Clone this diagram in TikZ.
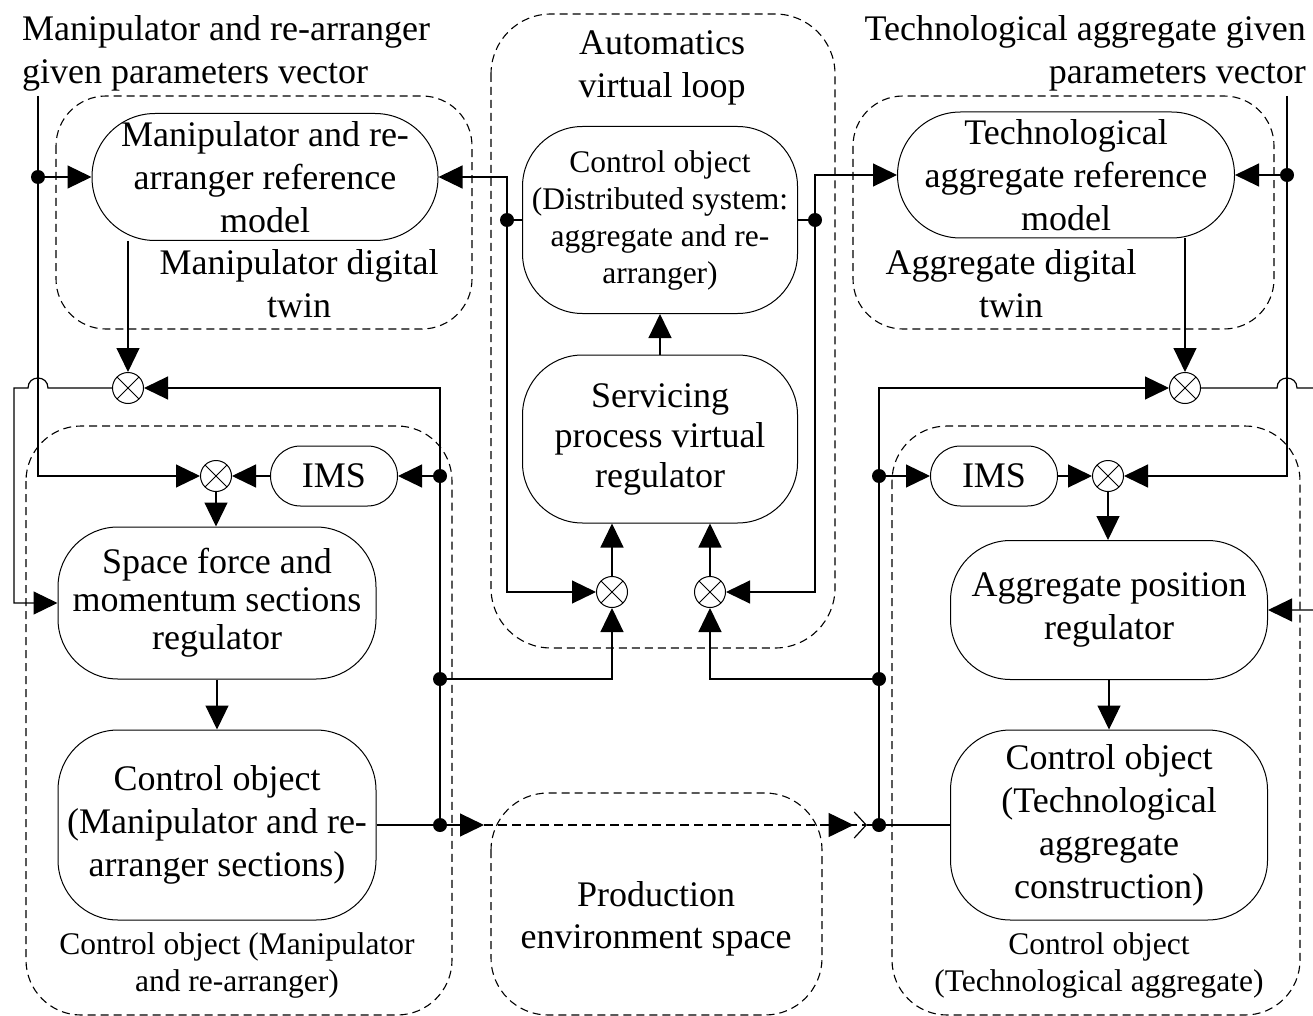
\documentclass[tikz,border=0pt]{standalone}
\usepackage{fontspec}
\setmainfont{Liberation Serif}
\usetikzlibrary{arrows.meta,backgrounds}
\newcommand\bigtxt{\fontsize{36}{43}\selectfont}
\newcommand\midtxt{\fontsize{36}{40}\selectfont}
\newcommand\smalltxt{\fontsize{31.5}{37}\selectfont}
\tikzset{
  blk/.style={draw, fill=white, line width=1pt, align=center, inner sep=0pt, font=\bigtxt},
  sumj/.style={draw, circle, fill=white, line width=1pt, minimum size=31pt, inner sep=0pt,
    path picture={\draw[line width=0.8pt] (path picture bounding box.north west) -- (path picture bounding box.south east)
      (path picture bounding box.north east) -- (path picture bounding box.south west);}},
  junc/.style={circle, fill, inner sep=0pt, minimum size=14pt},
  grp/.style={draw, line width=1.1pt, dash pattern=on 8pt off 5pt, rounded corners=#1},
  grp/.default=55pt,
  lbl/.style={align=center, inner sep=0pt, font=\bigtxt},
  conn/.style={line width=1.2pt},
  arr/.style={conn, -{Triangle[length=24pt,width=23pt]}},
}
\begin{document}
\begin{tikzpicture}[x=1pt, y=-1pt]
    \useasboundingbox (0,0) rectangle (1313,1016);

    \node[lbl, anchor=west, align=left] (tl) at (22,53) {Manipulator and re-arranger\\given parameters vector};
    \node[lbl] (tm) at (662,68) {Automatics\\virtual loop};
    \node[lbl, anchor=east, align=right] (tr) at (1306,53) {Technological aggregate given\\parameters vector};

    \node[blk, rounded corners=63pt, minimum width=346pt, minimum height=127pt] (mref) at (265,177) {Manipulator and re-\\arranger reference\\model};
    \node[blk, rounded corners=63pt, minimum width=337pt, minimum height=126pt] (tref) at (1066,175) {Technological\\aggregate reference\\model};
    \node[blk, rounded corners=60pt, minimum width=275pt, minimum height=187pt, font=\smalltxt] (cod) at (660,220) {Control object\\(Distributed system:\\aggregate and re-\\arranger)};
    \node[blk, rounded corners=60pt, minimum width=275pt, minimum height=168pt, font=\midtxt] (svr) at (660,439) {Servicing\\process virtual\\regulator};
    \node[blk, rounded corners=30pt, minimum width=127pt, minimum height=60pt] (imsl) at (334,476) {IMS};
    \node[blk, rounded corners=30pt, minimum width=127pt, minimum height=60pt] (imsr) at (994,476) {IMS};
    \node[blk, rounded corners=60pt, minimum width=318pt, minimum height=152pt, font=\fontsize{36}{38}\selectfont] (sfr) at (217,603) {Space force and\\momentum sections\\regulator};
    \node[blk, rounded corners=60pt, minimum width=318pt, minimum height=190pt] (col) at (217,825) {Control object\\(Manipulator and re-\\arranger sections)};
    \node[blk, rounded corners=60pt, minimum width=317pt, minimum height=139pt] (agr) at (1109,610) {Aggregate position\\regulator};
    \node[blk, rounded corners=60pt, minimum width=317pt, minimum height=190pt] (cor) at (1109,825) {Control object\\(Technological\\aggregate\\construction)};

    \node[sumj] (s1) at (128,388) {};
    \node[sumj] (s2) at (216,476) {};
    \node[sumj] (s3) at (612,592) {};
    \node[sumj] (s4) at (710,592) {};
    \node[sumj] (s5) at (1185,388) {};
    \node[sumj] (s6) at (1108,476) {};

    \node[junc] (dl0) at (38,177) {};
    \node[junc] (dl1) at (440,476) {};
    \node[junc] (dl2) at (440,679) {};
    \node[junc] (dl3) at (440,825) {};
    \node[junc] (da) at (507,220) {};
    \node[junc] (db) at (815,220) {};
    \node[junc] (dr1) at (879,476) {};
    \node[junc] (dr2) at (879,679) {};
    \node[junc] (dr3) at (879,825) {};
    \node[junc] (dr0) at (1287,175) {};

    \coordinate (inl) at (38,96);
    \coordinate (inr) at (1287,96);
    \coordinate (envl) at (484,825);
    \coordinate (envr) at (867,825);

    \node[lbl] (twl) at (299,284) {Manipulator digital\\twin};
    \node[lbl] (twr) at (1011,284) {Aggregate digital\\twin};
    \node[lbl, font=\fontsize{36}{42}\selectfont] (prod) at (656,919) {Production\\environment space};
    \node[lbl, font=\smalltxt] (colb) at (237,965) {Control object (Manipulator\\and re-arranger)};
    \node[lbl, font=\smalltxt] (corb) at (1099,965) {Control object\\(Technological aggregate)};

    \begin{pgfonlayer}{background}
    \draw[grp=50pt] (56,96) rectangle (472,329);
    \draw[grp=50pt] (853,96) rectangle (1274,329);
    \draw[grp=60pt] (491,14) rectangle (835,648);
    \draw[grp] (26,426) rectangle (452,1015);
    \draw[grp] (892,426) rectangle (1300,1015);
    \draw[grp=57pt] (491,793) rectangle (822,1015);

    \draw[arr] (inl) |- (s2.west);
    \draw[arr] (dl0) -- (mref.west);
    \draw[arr] (s1.west) -- (48,388) .. controls (48,374.7) and (28,374.7) .. (28,388) -- (14,388) |- (sfr.west);
    \draw[arr] (s1 |- mref.south) -- (s1.north);
    \draw[arr] (dl3) |- (s1.east);
    \draw[arr] (dl1) -- (imsl.east);
    \draw[arr] (imsl.west) -- (s2.east);
    \draw[arr] (s2.south) -- (s2 |- sfr.north);
    \draw[arr] (sfr.south) -- (col.north);
    \draw[conn] (col.east) -- (dl3);
    \draw[arr] (dl3) -- (envl);
    \draw[conn, dash pattern=on 9pt off 5pt, -{Triangle[length=25pt,width=24pt]Straight Barb[length=12pt,width=26pt]}] (envl) -- (envr);
    \draw[conn] (envr) -- (dr3) -- (cor.west);
    \draw[arr] (dl2) -| (s3.south);
    \draw[conn] (cod.west) -- (da);
    \draw[arr] (da) |- (mref.east);
    \draw[arr] (da) |- (s3.west);
    \draw[conn] (cod.east) -- (db);
    \draw[arr] (db) |- (tref.west);
    \draw[arr] (db) |- (s4.east);
    \draw[arr] (s3.north) -- (s3 |- svr.south);
    \draw[arr] (s4.north) -- (s4 |- svr.south);
    \draw[arr] (svr.north) -- (cod.south);
    \draw[arr] (dr2) -| (s4.south);
    \draw[arr] (dr3) |- (s5.west);
    \draw[arr] (dr1) -- (imsr.west);
    \draw[arr] (imsr.east) -- (s6.west);
    \draw[arr] (s6.south) -- (s6 |- agr.north);
    \draw[arr] (agr.south) -- (cor.north);
    \draw[arr] (inr) |- (s6.east);
    \draw[arr] (dr0) -- (tref.east);
    \draw[arr] (s5 |- tref.south) -- (s5.north);
    \draw[arr] (s5.east) -- (1277,388) .. controls (1277,374.7) and (1297,374.7) .. (1297,388) -- (1325,388) |- (agr.east);
    \end{pgfonlayer}
\end{tikzpicture}
\end{document}
